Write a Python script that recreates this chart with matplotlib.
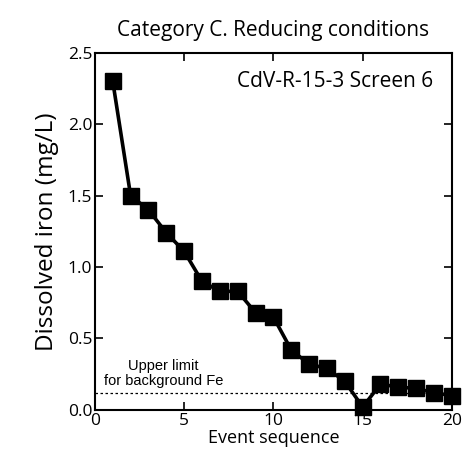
import matplotlib
matplotlib.use("Agg")
import matplotlib.pyplot as plt

plt.rcParams["font.family"] = ["Open Sans", "DejaVu Sans"]

event = list(range(1, 21))
iron = [2.30, 1.50, 1.40, 1.24, 1.11, 0.90, 0.83, 0.83, 0.68, 0.65,
        0.42, 0.32, 0.29, 0.20, 0.02, 0.18, 0.16, 0.15, 0.12, 0.10]
background_fe = 0.115

fig = plt.figure(figsize=(4.63, 4.59), dpi=100)
ax = fig.add_axes([0.205, 0.107, 0.771, 0.778])

ax.axhline(background_fe, color="black", linestyle=(0, (2, 2)), linewidth=0.9)
ax.plot(event, iron, color="black", linewidth=2.6, marker="s",
        markersize=12, clip_on=False, zorder=3)

ax.text(3.85, background_fe + 0.035, "Upper limit\nfor background Fe",
        fontsize=10.5, ha="center", va="bottom", linespacing=1.1,
        family=["Liberation Sans", "DejaVu Sans"])
ax.text(18.95, 2.37, "CdV-R-15-3 Screen 6", fontsize=15, ha="right", va="top")

ax.set_xlim(0, 20)
ax.set_ylim(0, 2.5)
ax.set_xticks([0, 5, 10, 15, 20])
ax.set_yticks([0, 0.5, 1.0, 1.5, 2.0, 2.5])
ax.set_yticklabels(["0.0", "0.5", "1.0", "1.5", "2.0", "2.5"])
ax.tick_params(direction="in", top=True, right=True, length=6, width=1.2,
               labelsize=12.5, pad=2)
for s in ax.spines.values():
    s.set_linewidth(1.5)

ax.set_xlabel("Event sequence", fontsize=13, labelpad=0)
ax.set_ylabel("Dissolved iron (mg/L)", fontsize=17.5, labelpad=6)
ax.set_title("Category C. Reducing conditions", fontsize=15, pad=12)

fig.savefig("out.png", dpi=100)
